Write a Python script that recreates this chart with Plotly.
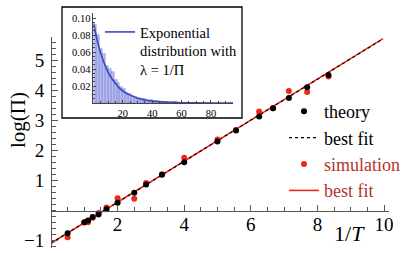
import plotly.graph_objects as go

# ---- main plot data ----
inv_T = [0.5, 1.0, 1.111, 1.25, 1.429, 1.667, 2.0, 2.5, 2.857, 3.333, 4.0,
         5.0, 5.556, 6.25, 6.667, 7.143, 7.692, 8.333]
theory_log_pi = [-0.76, -0.39, -0.33, -0.22, -0.13, 0.04, 0.26, 0.59, 0.87, 1.19,
                 1.61, 2.30, 2.67, 3.13, 3.41, 3.75, 4.11, 4.52]
sim_log_pi = [-0.89, -0.40, -0.39, -0.24, -0.08, 0.10, 0.41, 0.39, 0.92, 1.21,
              1.76, 2.37, 2.68, 3.30, 3.41, 3.98, 3.95, 4.47]
fit_x = [0.0, 9.97]
theory_fit_y = [-1.09, 5.72]
sim_fit_y = [-1.09, 5.73]

# ---- inset data ----
hist_centers = [1, 3, 5, 7, 9, 11, 13, 15, 17, 19, 21, 23, 25, 27, 29, 31, 33, 35,
                37, 39, 41, 43, 45, 47, 49, 51, 53, 55, 57, 59, 61, 63, 65, 67, 69,
                71, 73, 75, 77, 79]
hist_density = [0.092, 0.080, 0.063, 0.058, 0.043, 0.040, 0.036, 0.027, 0.023,
                0.019, 0.016, 0.012, 0.011, 0.0085, 0.0075, 0.006, 0.005, 0.0042,
                0.0035, 0.003, 0.0025, 0.002, 0.0017, 0.0014, 0.0012, 0.001,
                0.0008, 0.0007, 0.0006, 0.0005, 0.0004, 0.0004, 0.0003, 0.0003,
                0.0002, 0.0002, 0.0002, 0.0001, 0.0001, 0.0001]
curve_x = [0, 2, 4, 6, 8, 10, 12, 15, 18, 21, 25, 30, 35, 40, 50, 60, 70, 80, 95]
curve_y = [0.094, 0.078, 0.064, 0.053, 0.044, 0.036, 0.030, 0.023, 0.017, 0.013,
           0.0093, 0.0057, 0.0036, 0.0022, 0.0009, 0.0003, 0.0001, 0.00005, 0.0]

main_xticks = [2, 4, 6, 8, 10]
main_yticks = [-1, 1, 2, 3, 4, 5]
inset_xticks = [20, 40, 60, 80]
inset_yticks = [0.02, 0.04, 0.06, 0.08, 0.10]

SERIF = "Liberation Serif"
RED = "#f0281a"
RED_TEXT = "#b5332b"

fig = go.Figure()

# main traces
fig.add_trace(go.Scatter(x=fit_x, y=sim_fit_y, mode="lines",
                         line=dict(color=RED, width=1.6),
                         name=f"<span style='color:{RED_TEXT}'>best fit</span>",
                         legendrank=4))
fig.add_trace(go.Scatter(x=fit_x, y=theory_fit_y, mode="lines",
                         line=dict(color="black", width=1.1, dash="3px,3px"),
                         name="best fit", legendrank=2))
fig.add_trace(go.Scatter(x=inv_T, y=sim_log_pi, mode="markers",
                         marker=dict(color=RED, size=6),
                         name=f"<span style='color:{RED_TEXT}'>simulation</span>",
                         legendrank=3))
fig.add_trace(go.Scatter(x=inv_T, y=theory_log_pi, mode="markers",
                         marker=dict(color="black", size=6),
                         name="theory", legendrank=1))

# inset traces
fig.add_trace(go.Bar(x=hist_centers, y=hist_density, width=2,
                     marker=dict(color="rgba(165,172,238,0.8)",
                                 line=dict(color="rgba(110,118,200,0.8)", width=0.6)),
                     xaxis="x2", yaxis="y2", showlegend=False))
fig.add_trace(go.Scatter(x=curve_x, y=curve_y, mode="lines",
                         line=dict(color="#3a49c2", width=1.6, shape="spline"),
                         xaxis="x2", yaxis="y2",
                         name="Exponential<br>distribution with<br>λ = 1/Π",
                         legend="legend2"))

main_top = 211.5 / 243

fig.update_layout(
    width=415, height=253,
    margin=dict(l=51, r=26, t=5, b=5, autoexpand=False),
    paper_bgcolor="white", plot_bgcolor="rgba(0,0,0,0)",
    showlegend=True,
    bargap=0,
    font=dict(family=SERIF, color="black"),
    xaxis=dict(range=[0, 10.15], domain=[0, 1], anchor="free", position=37.5 / 243,
               automargin=False,
               showline=True, linecolor="#555", linewidth=1,
               showgrid=False, zeroline=False,
               tickvals=main_xticks, ticks="inside", ticklen=6, tickcolor="#555",
               tickfont=dict(family=SERIF, size=19, color="black"),
               ticklabelstandoff=-3,
               minor=dict(dtick=0.5, ticks="inside", ticklen=3.5, tickcolor="#555")),
    yaxis=dict(range=[-1.25, 5.8], domain=[0, main_top], anchor="free", position=0,
               automargin=False,
               showline=True, linecolor="#555", linewidth=1,
               showgrid=False, zeroline=False,
               tickvals=main_yticks, ticks="inside", ticklen=6, tickcolor="#555",
               tickfont=dict(family=SERIF, size=19, color="black"),
               ticklabelstandoff=3,
               minor=dict(dtick=0.2, ticks="inside", ticklen=3.5, tickcolor="#555")),
    xaxis2=dict(range=[0, 95], domain=[0.1257, 0.5385], anchor="y2",
                automargin=False,
                showline=True, linecolor="#444", linewidth=0.8,
                showgrid=False, zeroline=False,
                tickvals=inset_xticks, ticks="inside", ticklen=3, tickcolor="#444",
                tickfont=dict(family=SERIF, size=10.5, color="black"),
                ticklabelstandoff=0,
                minor=dict(dtick=5, ticks="inside", ticklen=2, tickcolor="#444")),
    yaxis2=dict(range=[0, 0.1059], domain=[0.5967, 0.967], anchor="x2",
                automargin=False,
                showline=True, linecolor="#444", linewidth=0.8,
                showgrid=False, zeroline=False,
                tickvals=inset_yticks, ticktext=["0.02", "0.04", "0.06", "0.08", "0.10"],
                ticks="inside", ticklen=3, tickcolor="#444",
                tickfont=dict(family=SERIF, size=10.5, color="black"),
                ticklabelstandoff=0,
                minor=dict(dtick=0.005, ticks="inside", ticklen=2, tickcolor="#444")),
    legend=dict(x=(284 - 51) / 338, y=(248 - 93) / 243, xanchor="left", yanchor="top",
                bgcolor="rgba(0,0,0,0)", font=dict(family=SERIF, size=18, color="black"),
                tracegroupgap=0, itemwidth=30),
    legend2=dict(x=(100 - 51) / 338, y=(248 - 16) / 243, xanchor="left", yanchor="top",
                 bgcolor="rgba(0,0,0,0)", font=dict(family=SERIF, size=14.5, color="black"),
                 valign="top", itemwidth=30),
    shapes=[dict(type="rect", xref="paper", yref="paper",
                 x0=(62 - 51) / 338, x1=(242 - 51) / 338,
                 y0=(248 - 118) / 243, y1=(248 - 7) / 243,
                 line=dict(color="black", width=1.3), fillcolor="white", layer="below")],
    annotations=[
        dict(text="log(Π)", xref="paper", yref="paper",
             x=(18 - 51) / 338, y=(248 - 120) / 243, showarrow=False, textangle=-90,
             xanchor="center", yanchor="middle",
             font=dict(family=SERIF, size=21, color="black")),
        dict(text="1/<i>T</i>", xref="paper", yref="paper",
             x=(349 - 51) / 338, y=(248 - 233) / 243, showarrow=False,
             xanchor="center", yanchor="middle",
             font=dict(family=SERIF, size=22, color="black")),
    ],
)

fig.write_html("out.html",
               config={"displayModeBar": False},
               post_script="document.body.style.margin='0';document.body.style.padding='0';")
